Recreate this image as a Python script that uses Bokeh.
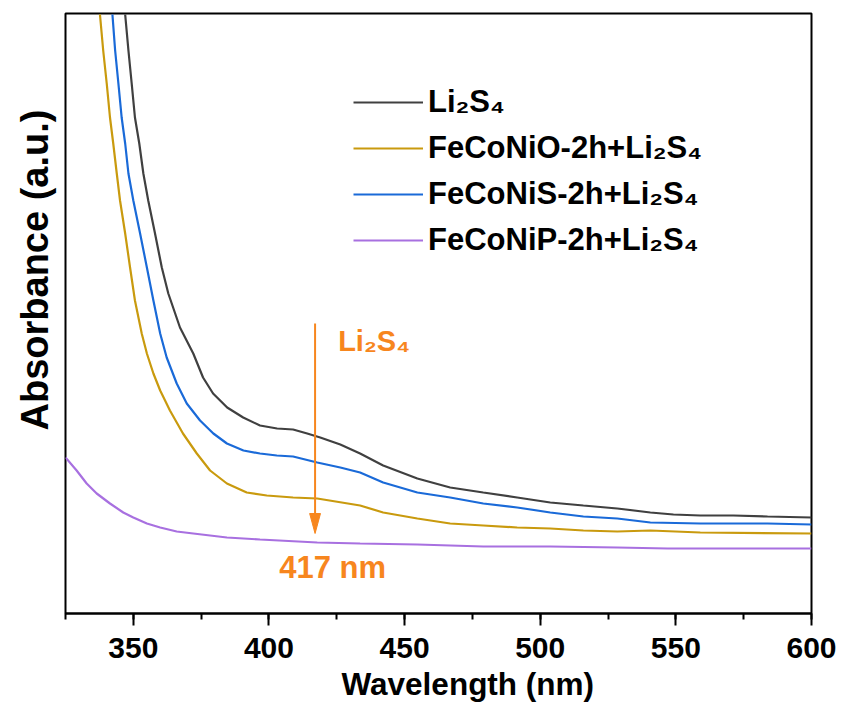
import numpy as np
from bokeh.plotting import figure
from bokeh.models import (Range1d, SingleIntervalTicker, Legend, LegendItem,
                          Label, Title)
from bokeh.embed import file_html
from bokeh.resources import INLINE

# UV-vis absorbance spectra (arbitrary units)
wl_li2s4 = [347.0, 348.2, 349.4, 350.6, 352.2, 353.7, 355.5, 358.0, 360.5,
            362.9, 367.2, 372.1, 375.7, 379.4, 384.6, 390.5, 396.7, 403.0,
            408.9, 414.1, 418.9, 426.3, 433.6, 442.1, 454.7, 466.8, 479.0,
            491.5, 503.7, 515.9, 528.4, 540.6, 549.1, 559.0, 571.2, 583.8,
            600.0]
abs_li2s4 = [2.995, 2.815, 2.650, 2.480, 2.350, 2.200, 2.065, 1.900, 1.730,
             1.600, 1.430, 1.300, 1.180, 1.100, 1.030, 0.980, 0.940, 0.925,
             0.920, 0.900, 0.880, 0.845, 0.800, 0.740, 0.675, 0.630, 0.605,
             0.580, 0.555, 0.540, 0.525, 0.505, 0.495, 0.490, 0.490, 0.485,
             0.480]

wl_oxide = [337.7, 338.9, 340.2, 341.4, 342.6, 343.9, 345.1, 347.0, 348.8,
            350.6, 353.1, 355.0, 357.4, 359.9, 363.5, 368.3, 373.4, 378.3,
            384.5, 391.8, 399.2, 408.9, 417.8, 433.6, 442.1, 454.7, 466.8,
            479.0, 491.5, 503.7, 515.9, 528.4, 540.6, 559.0, 600.0]
abs_oxide = [2.995, 2.815, 2.650, 2.480, 2.350, 2.200, 2.065, 1.900, 1.730,
             1.565, 1.400, 1.300, 1.200, 1.115, 1.015, 0.900, 0.800, 0.715,
             0.650, 0.605, 0.590, 0.580, 0.575, 0.540, 0.505, 0.475, 0.450,
             0.440, 0.430, 0.425, 0.415, 0.410, 0.415, 0.405, 0.400]

wl_sulfide = [342.3, 343.3, 344.5, 345.7, 347.0, 348.2, 350.0, 352.5, 355.0,
              357.4, 359.9, 362.3, 366.0, 369.7, 374.6, 379.5, 384.5, 390.6,
              396.7, 402.9, 408.9, 417.8, 426.3, 433.6, 442.1, 454.7, 466.8,
              479.0, 491.5, 503.7, 515.9, 528.4, 540.6, 559.0, 583.8, 600.0]
abs_sulfide = [2.995, 2.815, 2.650, 2.480, 2.350, 2.200, 2.065, 1.900, 1.730,
               1.565, 1.400, 1.280, 1.150, 1.050, 0.965, 0.900, 0.850, 0.815,
               0.800, 0.790, 0.785, 0.755, 0.730, 0.705, 0.655, 0.605, 0.580,
               0.550, 0.530, 0.505, 0.485, 0.475, 0.455, 0.450, 0.450, 0.445]

wl_phosphide = [325.0, 329.1, 332.8, 336.5, 341.4, 346.3, 350.0, 355.0,
                359.9, 366.0, 372.1, 384.5, 396.7, 417.8, 433.6, 454.7,
                479.0, 503.7, 528.4, 547.0, 600.0]
abs_phosphide = [0.780, 0.715, 0.650, 0.600, 0.550, 0.505, 0.480, 0.450,
                 0.430, 0.410, 0.400, 0.380, 0.370, 0.355, 0.350, 0.345,
                 0.335, 0.335, 0.330, 0.325, 0.325]

series_names = ["Li\u2082S\u2084", "FeCoNiO-2h+Li\u2082S\u2084",
                "FeCoNiS-2h+Li\u2082S\u2084", "FeCoNiP-2h+Li\u2082S\u2084"]
series_colors = ["#404040", "#c99a0e", "#1a6ad8", "#a870e0"]

peak_nm = 417
arrow_top = 1.45
arrow_tip = 0.40

FONT = "Liberation Sans"
ORANGE = "#f7861e"

p = figure(frame_width=746, frame_height=600,
           min_border_left=65, min_border_right=30,
           min_border_top=13, min_border_bottom=95,
           x_range=Range1d(325, 600), y_range=Range1d(0.0, 3.0),
           output_backend="svg", toolbar_location=None,
           background_fill_color="white", border_fill_color="white")

p.xgrid.visible = False
p.ygrid.visible = False
p.yaxis.visible = False
p.outline_line_color = "black"
p.outline_line_width = 2

ax = p.xaxis[0]
ax.ticker = SingleIntervalTicker(interval=50, num_minor_ticks=2)
ax.axis_line_width = 2
ax.axis_line_color = "black"
ax.major_tick_line_width = 2
ax.minor_tick_line_width = 2
ax.major_tick_out = 12
ax.major_tick_in = 0
ax.minor_tick_out = 6
ax.minor_tick_in = 0
ax.major_label_standoff = 12
ax.major_label_text_font = FONT
ax.major_label_text_font_style = "bold"
ax.major_label_text_font_size = "30px"
ax.major_label_text_color = "black"

data = [(wl_li2s4, abs_li2s4), (wl_oxide, abs_oxide),
        (wl_sulfide, abs_sulfide), (wl_phosphide, abs_phosphide)]
items = []
for (wl, ab), name, col in zip(data, series_names, series_colors):
    r = p.line(wl, ab, line_color=col, line_width=2.2)
    items.append(LegendItem(label=name, renderers=[r]))

legend = Legend(items=items, location=(288, 355),
                border_line_color=None, background_fill_alpha=0,
                glyph_width=70, glyph_height=36, label_height=36,
                spacing=10, padding=0, margin=0, label_standoff=5,
                label_text_font=FONT, label_text_font_style="bold",
                label_text_font_size="31px", label_text_color="black")
p.add_layout(legend)

# arrow marking the Li2S4 absorption band
head_len = 0.10
head_half = 2.0
p.segment(x0=[peak_nm], y0=[arrow_top], x1=[peak_nm], y1=[arrow_tip + head_len],
          line_color=ORANGE, line_width=2)
p.patch(x=[peak_nm - head_half, peak_nm + head_half, peak_nm],
        y=[arrow_tip + head_len, arrow_tip + head_len, arrow_tip],
        fill_color=ORANGE, line_color=ORANGE, line_width=1)

p.add_layout(Label(x=425.5, y=1.365, text="Li\u2082S\u2084",
                   text_font=FONT, text_font_style="bold",
                   text_font_size="29px", text_color=ORANGE,
                   text_align="left", text_baseline="alphabetic"))
p.add_layout(Label(x=423.5, y=0.23, text=f"{peak_nm} nm",
                   text_font=FONT, text_font_style="bold",
                   text_font_size="31px", text_color=ORANGE,
                   text_align="center", text_baseline="alphabetic"))

# axis titles
p.add_layout(Title(text="Absorbance (a.u.)", align="left", offset=183,
                   standoff=19, text_font=FONT, text_font_style="bold",
                   text_font_size="38px", text_color="black"), "left")
p.add_layout(Title(text="Wavelength (nm)", align="left", offset=276,
                   standoff=6, text_font=FONT, text_font_style="bold",
                   text_font_size="31.5px", text_color="black"), "below")

open("out.html", "w").write(file_html(p, INLINE))
